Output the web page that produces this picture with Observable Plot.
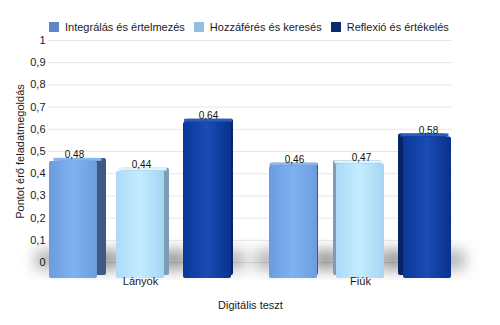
<!DOCTYPE html>
<html>
<head>
<meta charset="utf-8">
<script src="https://cdn.jsdelivr.net/npm/d3@7"></script>
<script src="https://cdn.jsdelivr.net/npm/@observablehq/plot@0.6"></script>
<style>
  html, body { margin: 0; padding: 0; background: #fff; }
  #wrap { position: relative; width: 500px; height: 325px; overflow: hidden; background: #fff;
          font-family: "Liberation Sans", Arial, sans-serif; }
  #wrap svg { position: absolute; left: 0; top: 0; }
  #legend { position: absolute; left: 49px; top: 21px; display: flex; align-items: center;
            font-size: 11px; line-height: 12px; color: #1a1a1a; white-space: nowrap; z-index: 3; }
  #legend .sw { width: 10px; height: 10px; margin-right: 6px; flex: none; }
  #legend .lb { margin-right: 9px; }
</style>
</head>
<body>
<div id="wrap"><div id="legend"></div></div>
<script>
// ---- data ----
const categories = ["Lányok", "Fiúk"];
const series = ["Integrálás és értelmezés", "Hozzáférés és keresés", "Reflexió és értékelés"];
const lanyokValues = [0.48, 0.44, 0.64];
const fiukValues = [0.46, 0.47, 0.58];
const yTicks = [0, 0.1, 0.2, 0.3, 0.4, 0.5, 0.6, 0.7, 0.8, 0.9, 1];
const yTickLabels = ["0", "0,1", "0,2", "0,3", "0,4", "0,5", "0,6", "0,7", "0,8", "0,9", "1"];
const yTitle = "Pontot érő feladatmegoldás";
const xTitle = "Digitális teszt";

// ---- styles ----
const FONT = "'Liberation Sans', Arial, sans-serif";
const legendColors = ["#5a88c8", "#92bde6", "#0f2a6a"];
const frontStops = [
  ["#6a9be0", "#80b2f2", "#6c9cdc"],
  ["#acdaf8", "#c4ecff", "#a6d4f2"],
  ["#0a389a", "#1a4cb4", "#08328c"]
];
const sideColors = ["#3c5a84", "#7d9cb8", "#062466"];
const topColors = ["#8ab6ee", "#dcf4ff", "#2c5cc0"];
const depthOffsets = [9, 5, 2, 1, -3, -5];

const valuesByCat = [lanyokValues, fiukValues];
const rows = categories.flatMap((c, ci) =>
  series.map((s, si) => ({cat: c, ser: s, si, v: valuesByCat[ci][si]})));
const fmt = v => String(v).replace(".", ",");

// ---- legend ----
const legend = document.getElementById("legend");
series.forEach((s, i) => {
  const sw = document.createElement("span");
  sw.className = "sw"; sw.style.background = legendColors[i];
  const lb = document.createElement("span");
  lb.className = "lb"; lb.textContent = s;
  legend.appendChild(sw); legend.appendChild(lb);
});

const wrap = document.getElementById("wrap");

// ---- back wall: grid, axes, titles ----
const back = Plot.plot({
  width: 500, height: 325,
  marginLeft: 48, marginRight: 48, marginTop: 40, marginBottom: 63,
  style: {fontFamily: FONT, fontSize: "11px", color: "#1a1a1a", background: "#fff"},
  x: {type: "band", domain: categories, range: [30, 470], padding: 0, axis: null},
  y: {domain: [0, 1], ticks: yTicks, tickFormat: d => yTickLabels[yTicks.indexOf(d)],
      tickSize: 0, tickPadding: 3, label: null},
  marks: [
    Plot.ruleY(yTicks, {stroke: "#e6e6e6", strokeWidth: 1}),
    Plot.text([xTitle], {text: d => d, frameAnchor: "bottom", dy: 46, fill: "#1a1a1a"}),
    Plot.text([yTitle], {text: d => d, frameAnchor: "left", textAnchor: "middle",
                         rotate: -90, dx: -28, fill: "#1a1a1a"})
  ]
});
wrap.appendChild(back);

// ---- bars (perspective floor) ----
const sideMarks = rows.map((row, i) => Plot.barY(rows, {
  filter: d => d === row, x: "ser", y: "v",
  fill: sideColors[row.si], dx: depthOffsets[i], dy: -3, rx: 2
}));
const topMarks = rows.map((row, i) => Plot.barY(rows, {
  filter: d => d === row, x: "ser", y1: "v", y2: "v", insetTop: -3,
  fill: topColors[row.si], dx: depthOffsets[i] / 2
}));

const bars = Plot.plot({
  width: 500, height: 325,
  marginLeft: 30, marginRight: 30, marginTop: 0, marginBottom: 0,
  style: {fontFamily: FONT, fontSize: "10px", background: "transparent", color: "#111"},
  facet: {data: rows, x: "cat"},
  fx: {domain: categories, padding: 0, axis: null},
  x: {domain: series, padding: 0.28, axis: null},
  y: {domain: [0, 1], range: [278, 34], axis: null},
  color: {type: "identity"},
  marks: [
    ...sideMarks,
    ...topMarks,
    Plot.barY(rows, {x: "ser", y: "v", fill: d => `url(#front${d.si})`, rx: 2}),
    Plot.text(rows, {x: "ser", y: "v", text: d => fmt(d.v), lineAnchor: "bottom",
                     dy: -3, dx: 1, fill: "#111", fontSize: 10})
  ]
});
wrap.appendChild(bars);

// category labels on top of everything
const front = Plot.plot({
  width: 500, height: 325,
  marginLeft: 48, marginRight: 48, marginTop: 40, marginBottom: 63,
  style: {fontFamily: FONT, fontSize: "11px", color: "#1a1a1a", background: "transparent"},
  x: {type: "band", domain: categories, range: [30, 470], padding: 0, axis: null},
  marks: [
    Plot.text(categories, {x: d => d, text: d => d, frameAnchor: "bottom", dy: 22, fill: "#1a1a1a"})
  ]
});
wrap.appendChild(front);

// gradients + shadow
const sv = d3.select(bars);
const defs = sv.insert("defs", ":first-child");
frontStops.forEach((stops, i) => {
  const g = defs.append("linearGradient").attr("id", `front${i}`)
    .attr("x1", 0).attr("x2", 1).attr("y1", 0).attr("y2", 0);
  stops.forEach((c, k) => g.append("stop").attr("offset", k / (stops.length - 1)).attr("stop-color", c));
});
defs.append("filter").attr("id", "shadowBlur")
  .attr("x", "-50%").attr("y", "-50%").attr("width", "200%").attr("height", "200%")
  .append("feGaussianBlur").attr("stdDeviation", 7);

const base = bars.getBoundingClientRect();
const shadowG = sv.insert("g", "defs + *").attr("filter", "url(#shadowBlur)");
sv.selectAll("rect").filter(function () {
  return (this.getAttribute("fill") || "").startsWith("url(#front");
}).each(function () {
  const r = this.getBoundingClientRect();
  const x = r.left - base.left, w = r.width, b = r.bottom - base.top;
  shadowG.append("rect").attr("x", x - 14).attr("width", w + 28)
    .attr("y", b - 28).attr("height", 20).attr("fill", "#000").attr("opacity", 0.28);
});
</script>
</body>
</html>
